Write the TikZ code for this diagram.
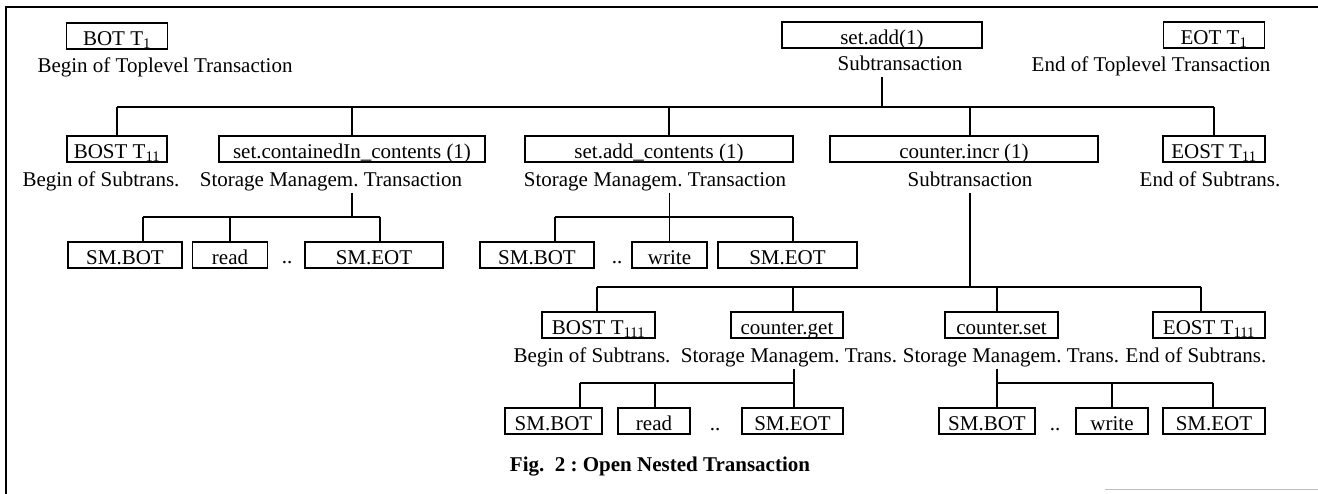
\documentclass[tikz,border=0pt]{standalone}
\usepackage{fontspec}
\setmainfont{Liberation Serif}
\usetikzlibrary{positioning, calc}
\frenchspacing

\begin{document}
\begin{tikzpicture}[
  x=1pt, y=1pt,
  every node/.style={font=\fontsize{21}{24}\selectfont},
  tbox/.style={draw, line width=1.1pt, minimum height=26pt, inner sep=0pt,
    text height=19pt, text depth=0pt},
  lbl/.style={inner sep=1pt, text height=14pt, text depth=5pt},
  dots/.style={inner sep=0pt, anchor=base},
  tree/.style={line width=1.1pt},
  frame/.style={line width=2.4pt},
]
\useasboundingbox (0,0) rectangle (1318,-494);

%% ---- frame ----
\draw[frame] (6,-494) -- (6,-7) -- (1318,-7);
\draw[line width=1pt, black!25] (1105,-489) -- (1318,-489);

%% ---- Toplevel ----
\node[tbox, minimum width=101] (bot) at (117,-36) {BOT T\textsubscript{1}};
\node[lbl] (botlbl) at (165,-68) {Begin of Toplevel Transaction};
\node[tbox, minimum width=200] (add) at (882,-35) {set.add(1)};
\node[lbl] (addlbl) at (900,-66) {Subtransaction};
\node[tbox, minimum width=101] (eot) at (1214,-35) {EOT T\textsubscript{1}};
\node[lbl] (eotlbl) at (1151,-67) {End of Toplevel Transaction};

%% ---- Subtransactions of T1 ----
\node[tbox, minimum width=100] (bost) at (117,-149) {BOST T\textsubscript{11}};
\node[lbl] (bostlbl) at (101,-182) {Begin of Subtrans.};
\node[tbox, minimum width=266] (cont) at (352,-149) {set.containedIn\_contents (1)};
\node[lbl] (contlbl) at (331,-182) {Storage Managem. Transaction};
\node[tbox, minimum width=268] (addc) at (659,-149) {set.add\_contents (1)};
\node[lbl] (addclbl) at (655,-182) {Storage Managem. Transaction};
\node[tbox, minimum width=268] (incr) at (964,-149) {counter.incr (1)};
\node[lbl] (incrlbl) at (970,-182) {Subtransaction};
\node[tbox, minimum width=102] (eost) at (1214,-149) {EOST T\textsubscript{11}};
\node[lbl] (eostlbl) at (1210,-182) {End of Subtrans.};

\coordinate (fork1) at (0,-107);
\draw[tree] (add |- addlbl.south) -- (add |- fork1);
\draw[tree] (bost |- fork1) -- (eost |- fork1);
\draw[tree] (bost |- fork1) -- (bost.north);
\draw[tree] (cont |- fork1) -- (cont.north);
\draw[tree] (669,-107) -- (669,0 |- addc.north);
\draw[tree] (incrlbl |- fork1) -- (incrlbl |- incr.north);
\draw[tree] (eost |- fork1) -- (eost.north);

%% ---- SM transaction under containedIn ----
\node[tbox, minimum width=114] (smbotA) at (125,-255) {SM.BOT};
\node[tbox, minimum width=75]  (readA)  at (230,-255) {read};
\node[dots] (dotsA) at (287,-264) {..};
\node[tbox, minimum width=138] (smeotA) at (374,-255) {SM.EOT};

\coordinate (dA1) at (143,-217);
\coordinate (dA2) at (230,-217);
\coordinate (dA3) at (380,-217);
\draw[tree] (cont |- contlbl.south) -- (cont |- dA1);
\draw[tree] (dA1) -- (dA3);
\draw[tree] (dA1) -- (dA1 |- smbotA.north);
\draw[tree] (dA2) -- (readA.north);
\draw[tree] (dA3) -- (dA3 |- smeotA.north);

%% ---- SM transaction under add_contents ----
\node[tbox, minimum width=114] (smbotB) at (537,-255) {SM.BOT};
\node[dots] (dotsB) at (617,-264) {..};
\node[tbox, minimum width=75]  (writeB) at (669.5,-255) {write};
\node[tbox, minimum width=139] (smeotB) at (787.5,-255) {SM.EOT};

\coordinate (dB1) at (555,-217);
\coordinate (dB3) at (793,-217);
\draw[tree] (dB1) -- (dB3);
\draw[tree] (writeB |- addclbl.south) -- (writeB.north);
\draw[tree] (dB1) -- (dB1 |- smbotB.north);
\draw[tree] (dB3) -- (dB3 |- smeotB.north);

%% ---- Subtransactions of counter.incr ----
\node[tbox, minimum width=113] (bostc) at (598.5,-325) {BOST T\textsubscript{111}};
\node[lbl] (bostclbl) at (592,-358) {Begin of Subtrans.};
\node[tbox, minimum width=112] (get) at (787,-325) {counter.get};
\node[lbl] (getlbl) at (789,-358) {Storage Managem. Trans.};
\node[tbox, minimum width=113] (set) at (1001.5,-325) {counter.set};
\node[lbl] (setlbl) at (1011,-358) {Storage Managem. Trans.};
\node[tbox, minimum width=112] (eostc) at (1209,-325) {EOST T\textsubscript{111}};
\node[lbl] (eostclbl) at (1196,-358) {End of Subtrans.};

\coordinate (dC1) at (597,-287);
\coordinate (dC2) at (793,-287);
\coordinate (dC3) at (997,-287);
\coordinate (dC4) at (1201,-287);
\draw[tree] (incrlbl.south) -- (incrlbl |- dC1);
\draw[tree] (dC1) -- (dC4);
\draw[tree] (dC1) -- (dC1 |- bostc.north);
\draw[tree] (dC2) -- (dC2 |- get.north);
\draw[tree] (dC3) -- (dC3 |- set.north);
\draw[tree] (dC4) -- (dC4 |- eostc.north);

%% ---- SM transaction under counter.get ----
\node[tbox, minimum width=97]  (smbotC) at (553.5,-421) {SM.BOT};
\node[tbox, minimum width=72]  (readC)  at (654,-421) {read};
\node[dots] (dotsC) at (715,-430) {..};
\node[tbox, minimum width=101] (smeotC) at (792.5,-421) {SM.EOT};

\coordinate (dD1) at (580,-383);
\coordinate (dD2) at (655,-383);
\coordinate (dD3) at (794,-383);
\draw[tree] (dD3 |- getlbl.south) -- (dD3 |- smeotC.north);
\draw[tree] (dD1) -- (dD3);
\draw[tree] (dD1) -- (dD1 |- smbotC.north);
\draw[tree] (dD2) -- (dD2 |- readC.north);

%% ---- SM transaction under counter.set ----
\node[tbox, minimum width=96]  (smbotD) at (987,-421) {SM.BOT};
\node[dots] (dotsD) at (1055,-430) {..};
\node[tbox, minimum width=72]  (writeD) at (1112,-421) {write};
\node[tbox, minimum width=102] (smeotD) at (1214,-421) {SM.EOT};

\coordinate (dE1) at (997,-383);
\coordinate (dE3) at (1213,-383);
\draw[tree] (dE1 |- setlbl.south) -- (dE1 |- smbotD.north);
\draw[tree] (dE1) -- (dE3);
\draw[tree] (writeD |- dE1) -- (writeD.north);
\draw[tree] (dE3) -- (dE3 |- smeotD.north);

%% ---- caption ----
\node[lbl, font=\fontsize{21}{24}\selectfont\bfseries] (caption) at (660,-467)
  {Fig.~~2 : Open Nested Transaction};

\end{tikzpicture}
\end{document}
